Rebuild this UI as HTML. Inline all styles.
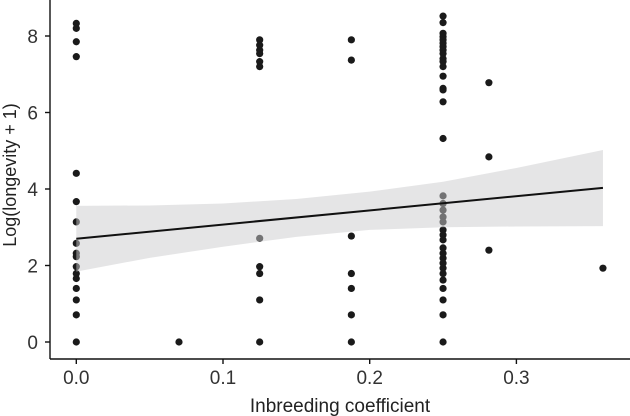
<!DOCTYPE html>
<html><head><meta charset="utf-8"><style>
html,body{margin:0;padding:0;background:#fff;}
svg{display:block;font-family:"Liberation Sans",Arial,sans-serif;}
</style></head><body>
<svg id="chart" width="630" height="416" viewBox="0 0 630 416"></svg>
<script>
const colX = [0, 0.07, 0.125, 0.1875, 0.25, 0.28125, 0.359];
const yCol0 = [8.33,8.2,7.85,7.46,4.41,3.67,3.14,2.58,2.32,2.23,1.97,1.79,1.66,1.40,1.10,0.71,0];
const yCol1 = [0];
const yCol2 = [7.9,7.76,7.63,7.54,7.33,7.2,2.71,1.97,1.79,1.10,0];
const yCol3 = [7.9,7.37,2.77,1.79,1.40,0.71,0];
const yCol4 = [8.52,8.35,8.07,7.98,7.9,7.81,7.72,7.63,7.54,7.41,7.33,7.2,6.95,6.63,6.59,6.28,5.32,3.82,3.62,3.45,3.27,3.14,2.93,2.8,2.67,2.46,2.32,2.19,2.06,1.93,1.79,1.62,1.40,1.10,0.71,0];
const yCol5 = [6.78,4.84,2.4];
const yCol6 = [1.93];
const colY = [yCol0, yCol1, yCol2, yCol3, yCol4, yCol5, yCol6];
const fitX = [0, 0.359];
const fitY = [2.70, 4.03];
const bandX = [0, 0.05, 0.1, 0.15, 0.2, 0.25, 0.3, 0.359];
const bandLo = [1.84, 2.2, 2.49, 2.75, 2.93, 3.0, 3.02, 3.03];
const bandHi = [3.56, 3.57, 3.62, 3.74, 3.93, 4.19, 4.55, 5.02];
const xTicks = [0, 0.1, 0.2, 0.3];
const xTickLabels = ["0.0","0.1","0.2","0.3"];
const yTicks = [0, 2, 4, 6, 8];
const yTickLabels = ["0","2","4","6","8"];

const NS = "http://www.w3.org/2000/svg";
const svg = document.getElementById('chart');
const sx = v => 76.3 + 1467 * v;
const sy = v => 342 - 38.25 * v;
function mk(tag, attrs, parent) {
  const e = document.createElementNS(NS, tag);
  for (const k in attrs) e.setAttribute(k, attrs[k]);
  (parent || svg).appendChild(e);
  return e;
}
const gPts = mk('g', {});


for (let c = 0; c < colX.length; c++) {
  for (let i = 0; i < colY[c].length; i++) {
    const p = mk('circle', {cx: sx(colX[c]), cy: sy(colY[c][i]), r: 3.6, fill: '#1a1a1a'}, gPts);
    
    
  }
}
let d = '';
for (let i = 0; i < bandX.length; i++) d += (i ? 'L' : 'M') + sx(bandX[i]) + ' ' + sy(bandHi[i]);
for (let i = bandX.length - 1; i >= 0; i--) d += 'L' + sx(bandX[i]) + ' ' + sy(bandLo[i]);
const band = mk('path', {d: d + 'Z', fill: 'rgb(204,204,206)', 'fill-opacity': 0.5});


const fit = mk('line', {x1: sx(fitX[0]), y1: sy(fitY[0]), x2: sx(fitX[1]), y2: sy(fitY[1]), stroke: '#111', 'stroke-width': 2});



const ax = mk('g', {stroke: '#111', 'stroke-width': 1.4});


mk('line', {x1: 50, y1: 0, x2: 50, y2: 359}, ax);
mk('line', {x1: 50, y1: 359, x2: 630, y2: 359}, ax);
for (let i = 0; i < xTicks.length; i++) {
  mk('line', {x1: sx(xTicks[i]), y1: 359, x2: sx(xTicks[i]), y2: 364}, ax);
  const t = mk('text', {x: sx(xTicks[i]), y: 384, 'text-anchor': 'middle', 'font-size': 19, fill: '#333'});
  t.textContent = xTickLabels[i];
  
  
}
for (let i = 0; i < yTicks.length; i++) {
  mk('line', {x1: 45, y1: sy(yTicks[i]), x2: 50, y2: sy(yTicks[i])}, ax);
  const t = mk('text', {x: 38, y: sy(yTicks[i]) + 7, 'text-anchor': 'end', 'font-size': 19, fill: '#333'});
  t.textContent = yTickLabels[i];
  
  
}
const xt = mk('text', {x: 340, y: 412, 'text-anchor': 'middle', 'font-size': 19, fill: '#222'});
xt.textContent = 'Inbreeding coefficient';


const yt = mk('text', {x: 0, y: 0, 'text-anchor': 'middle', 'font-size': 18, fill: '#222', transform: 'translate(16,175) rotate(-90)'});
yt.textContent = 'Log(longevity + 1)';


</script>
</body></html>
